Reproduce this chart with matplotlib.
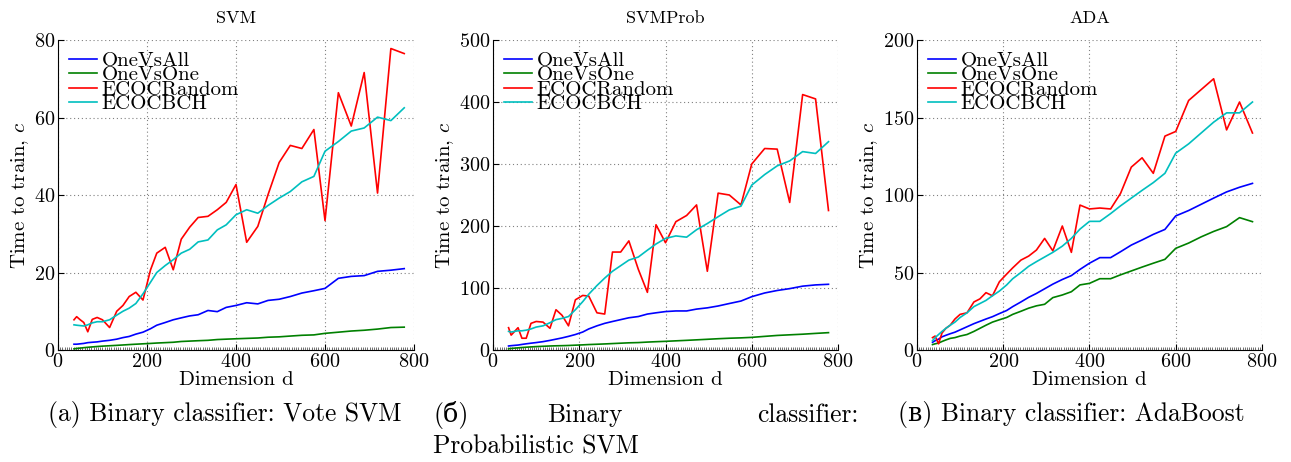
import numpy as np
import matplotlib; matplotlib.use("Agg")
import matplotlib.pyplot as plt

plt.rcParams["font.family"] = ["cmr10", "DejaVu Serif"]
plt.rcParams["mathtext.fontset"] = "cm"
plt.rcParams["axes.formatter.use_mathtext"] = True

# dimension d (shared by all panels)
D = [36, 42, 50, 58, 67, 77, 88, 100, 116, 132, 146, 160, 175, 191, 208, 222,
     241, 259, 277, 296, 315, 337, 358, 378, 400, 424, 449, 472, 497, 522, 548,
     575, 600, 630, 659, 688, 718, 748, 778]

LABELS = ["OneVsAll", "OneVsOne", "ECOCRandom", "ECOCBCH"]
COLORS = ["#0000ff", "#008000", "#ff0000", "#00bfbf"]

# SVM
svm_all = [1.5, 1.5, 1.6, 1.7, 1.9, 2.0, 2.1, 2.3, 2.5, 2.8, 3.2, 3.5, 4.1, 4.6, 5.5, 6.4,
           7.1, 7.8, 8.3, 8.8, 9.1, 10.2, 9.9, 11.0, 11.5, 12.2, 11.9, 12.8, 13.1, 13.8, 14.7,
           15.3, 15.9, 18.5, 19.0, 19.2, 20.3, 20.6, 21.0]
svm_one = [0.3, 0.4, 0.5, 0.6, 0.7, 0.8, 0.9, 1.0, 1.1, 1.2, 1.3, 1.4, 1.5, 1.6, 1.7, 1.8,
           1.9, 2.0, 2.2, 2.3, 2.4, 2.5, 2.7, 2.8, 2.9, 3.0, 3.1, 3.3, 3.4, 3.6, 3.8,
           3.9, 4.3, 4.6, 4.9, 5.1, 5.4, 5.8, 5.9]
svm_rnd = [7.8, 8.6, 7.8, 7.1, 4.7, 7.9, 8.4, 7.8, 5.8, 10.0, 11.5, 13.8, 14.9, 12.9, 20.7, 25.0,
           26.5, 20.7, 28.6, 31.7, 34.2, 34.5, 36.2, 38.1, 42.7, 27.8, 31.9, 40.1, 48.4, 52.8, 52.0,
           56.9, 33.4, 66.4, 57.8, 71.6, 40.5, 77.8, 76.5]
svm_bch = [6.5, 6.4, 6.3, 6.2, 6.5, 7.0, 7.3, 7.3, 7.8, 9.0, 10.0, 10.8, 12.0, 14.5, 17.5, 20.0,
           21.8, 23.3, 25.0, 26.0, 27.9, 28.4, 31.0, 32.3, 34.9, 36.2, 35.3, 37.3, 39.2, 40.9, 43.4,
           44.8, 51.3, 53.8, 56.5, 57.3, 60.1, 59.2, 62.5]

# SVMProb
prob_all = [6.5, 7, 7.5, 8, 9, 10, 11, 12, 13.5, 15.5, 17.5, 19.5, 22, 25, 29, 34,
            39, 43, 46, 49, 52, 54, 58, 60, 62, 63, 63, 66, 68, 71, 75,
            79, 86, 92, 96, 99, 103, 105, 106]
prob_one = [2, 2.5, 3, 3.5, 4, 4.5, 5, 5.5, 6, 6.5, 6.8, 7, 7.3, 7.8, 8.3, 8.8,
            9.3, 9.8, 10.4, 11, 11.6, 12, 12.8, 13.4, 14, 14.8, 15.6, 16.4, 17.3, 18.2, 19,
            19.6, 20.4, 22, 23.5, 24.5, 25.5, 26.8, 28]
prob_rnd = [36, 24, 30, 36, 19, 19, 43, 46, 45, 35, 65, 56, 39, 81, 88, 87,
            60, 58, 158, 158, 176, 130, 93, 202, 173, 207, 217, 234, 127, 253, 250,
            234, 300, 325, 324, 238, 412, 405, 225]
prob_bch = [30, 29, 30, 31, 31, 32, 34, 37, 39, 44, 49, 51, 54, 65, 78, 90,
            104, 116, 127, 136, 145, 150, 161, 171, 180, 184, 182, 194, 204, 215, 226,
            232, 266, 283, 297, 305, 320, 317, 336]

# ADA
ada_all = [5, 6, 7, 8.5, 9.5, 10.5, 11.5, 13, 15, 17, 18.5, 20, 21.5, 23.5, 25.5, 28,
           31, 34, 36.5, 39.5, 42.5, 45.5, 48, 52, 56, 59.6, 59.6, 63.4, 67.7, 71, 74.6,
           77.8, 86.5, 90, 94, 98, 102, 105, 107.5]
ada_one = [3.5, 4, 4.5, 5.5, 6.5, 7.5, 8, 9, 10, 12, 14, 16, 18, 19.5, 21, 23,
           25, 27, 28.5, 29.5, 33.8, 35.5, 37.6, 42, 43, 46, 46, 48.5, 51, 53.5, 56,
           58.5, 65.6, 69, 73, 76.5, 79.6, 85.4, 82.8]
ada_rnd = [8, 9, 4, 11, 14, 16, 20, 23, 24, 31, 33, 37, 35, 44, 49, 53,
           58, 60.6, 64.5, 72, 64, 80, 63, 93.5, 91, 91.6, 91, 101, 118, 124, 114,
           138, 141, 161, 168, 175, 142, 160, 140]
ada_bch = [6, 8, 10, 12, 14, 16, 18, 21, 24, 28, 30, 32, 35, 38, 42, 46,
           50, 54, 57, 60, 63, 67, 72, 78, 83, 83, 88, 93, 98, 103, 108,
           114, 127, 133, 140, 147, 153, 153, 160]

PANELS = [
    ("SVM", [svm_all, svm_one, svm_rnd, svm_bch], 80, 20, [0.0449, 0.2424, 0.2758, 0.671]),
    ("SVMProb", [prob_all, prob_one, prob_rnd, prob_bch], 500, 100, [0.3819, 0.2424, 0.2672, 0.671]),
    ("ADA", [ada_all, ada_one, ada_rnd, ada_bch], 200, 50, [0.7103, 0.2424, 0.2672, 0.671]),
]

fig = plt.figure(figsize=(12.91, 4.62), dpi=100)
for title, series, ymax, ystep, pos in PANELS:
    ax = fig.add_axes(pos)
    for y, lbl, c in zip(series, LABELS, COLORS):
        ax.plot(D, y, color=c, lw=1.2, label=lbl)
    ax.set_xlim(0, 800); ax.set_ylim(0, ymax)
    ax.set_xticks(np.arange(0, 801, 200))
    ax.set_yticks(np.arange(0, ymax + 1, ystep))
    ax.set_xticks(np.arange(0, 801, 5), minor=True)
    ax.tick_params(direction="in", labelsize=14.5, length=4, top=False, right=False, pad=2)
    ax.tick_params(which="minor", direction="in", length=2.5, width=0.6, color="0.35")
    ax.spines["top"].set_visible(False); ax.spines["right"].set_visible(False)
    ax.grid(True, ls=(0, (1, 2.5)), color="0.5", lw=0.8)
    ax.set_title(title, fontsize=13, pad=12)
    ax.set_xlabel("Dimension d", fontsize=15, labelpad=0)
    ax.set_ylabel("Time to train, $c$", fontsize=15, labelpad=2)
    ax.legend(loc="upper left", frameon=False, fontsize=15, handlelength=1.3,
              labelspacing=-0.2, borderaxespad=0.15, handletextpad=0.25)

cap = 18.4
ycap = 1 - 415 / 462
fig.text(225 / 1291, ycap, "(a) Binary classifier: Vote SVM", ha="center", va="center", fontsize=cap)
fig.text(433 / 1291, ycap, "(б)", ha="left", va="center", fontsize=cap)
fig.text(585 / 1291, ycap, "Binary", ha="center", va="center", fontsize=cap)
fig.text(858 / 1291, ycap, "classifier:", ha="right", va="center", fontsize=cap)
fig.text(433 / 1291, 1 - 447 / 462, "Probabilistic SVM", ha="left", va="center", fontsize=cap)
fig.text(1071 / 1291, ycap, "(в) Binary classifier: AdaBoost", ha="center", va="center", fontsize=cap)

plt.savefig("out.png", dpi=100)
